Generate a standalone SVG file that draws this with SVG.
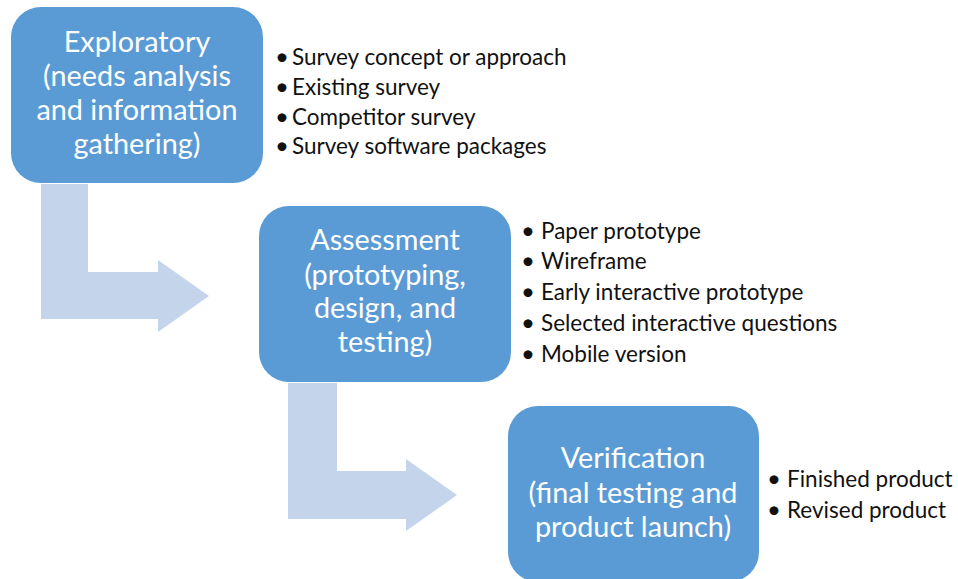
<svg xmlns="http://www.w3.org/2000/svg" width="958" height="579" viewBox="0 0 958 579">
<style>
.box{fill:#5b9bd5;}
.arrow{fill:#c4d5eb;}
.bt{font-family:Lato,"Liberation Sans",sans-serif;font-size:28.8px;fill:#ffffff;text-anchor:middle;}
.li{font-family:Lato,"Liberation Sans",sans-serif;font-size:22.5px;fill:#111111;}
.bu{font-family:Lato,"Liberation Sans",sans-serif;font-size:24px;fill:#111111;text-anchor:middle;}
</style>
<rect width="958" height="579" fill="#ffffff"/>
<g id="connectors">
<path class="arrow" d="M41,184 H88 V272 H158 V260 L209,296 L158,332 V319 H41 Z"/>
<path class="arrow" d="M288,383 H337 V471 H406 V459 L457,495 L406,531 V519 H288 Z"/>
</g>
<g id="exploratory">
<rect class="box" x="11" y="7" width="252" height="176" rx="30"/>
<text class="bt" x="137" y="52">Exploratory</text>
<text class="bt" x="137" y="86">(needs analysis</text>
<text class="bt" x="137" y="120">and information</text>
<text class="bt" x="137" y="154">gathering)</text>
</g>
<g id="exploratory-list">
<text class="bu" x="282" y="65">•</text><text class="li" x="292" y="65">Survey concept or approach</text>
<text class="bu" x="282" y="95">•</text><text class="li" x="292" y="95">Existing survey</text>
<text class="bu" x="282" y="125">•</text><text class="li" x="292" y="125">Competitor survey</text>
<text class="bu" x="282" y="154">•</text><text class="li" x="292" y="154">Survey software packages</text>
</g>
<g id="assessment">
<rect class="box" x="259" y="206" width="252" height="176" rx="30"/>
<text class="bt" x="385" y="250">Assessment</text>
<text class="bt" x="385" y="285">(prototyping,</text>
<text class="bt" x="385" y="318">design, and</text>
<text class="bt" x="385" y="352">testing)</text>
</g>
<g id="assessment-list">
<text class="bu" x="528" y="239">•</text><text class="li" x="541" y="239">Paper prototype</text>
<text class="bu" x="528" y="269">•</text><text class="li" x="541" y="269">Wireframe</text>
<text class="bu" x="528" y="300">•</text><text class="li" x="541" y="300">Early interactive prototype</text>
<text class="bu" x="528" y="331">•</text><text class="li" x="541" y="331">Selected interactive questions</text>
<text class="bu" x="528" y="362">•</text><text class="li" x="541" y="362">Mobile version</text>
</g>
<g id="verification">
<rect class="box" x="508" y="406" width="251" height="176" rx="30"/>
<text class="bt" x="633" y="468">Verification</text>
<text class="bt" x="633" y="503">(final testing and</text>
<text class="bt" x="633" y="537">product launch)</text>
</g>
<g id="verification-list">
<text class="bu" x="774" y="487">•</text><text class="li" x="787" y="487">Finished product</text>
<text class="bu" x="774" y="518">•</text><text class="li" x="787" y="518">Revised product</text>
</g>
</svg>
